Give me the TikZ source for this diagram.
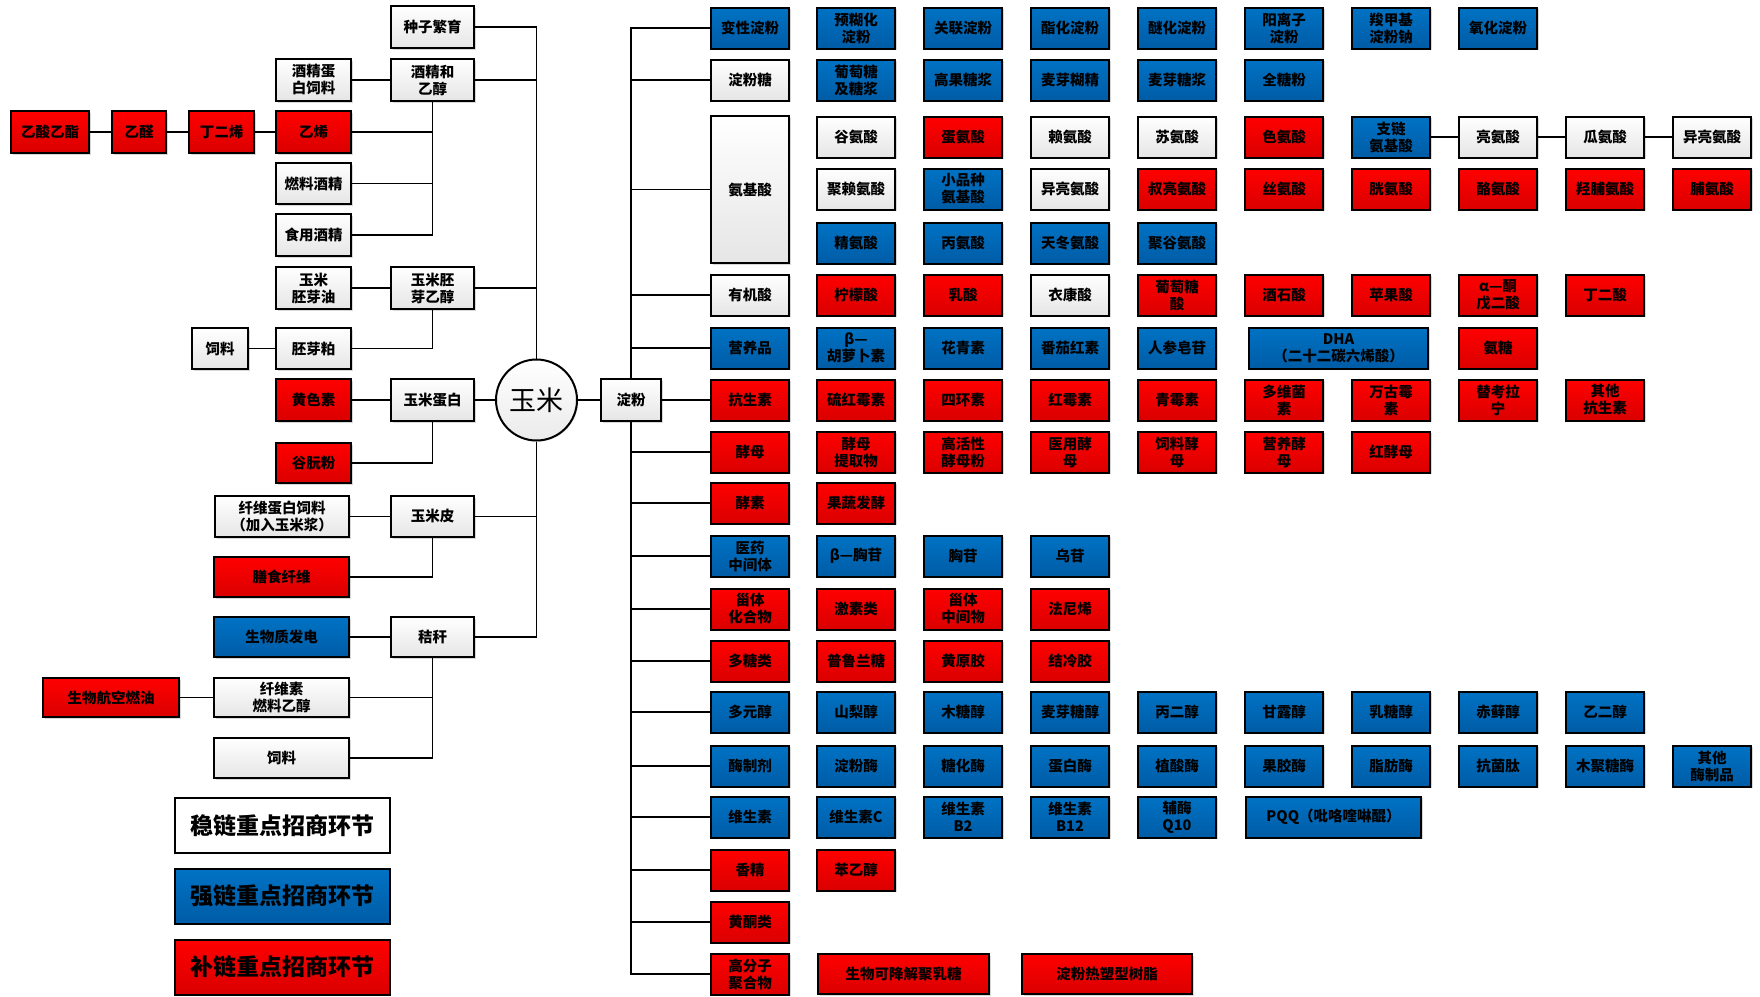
\documentclass[tikz,border=0pt]{standalone}
\usepackage{fontspec}
\setmainfont{Noto Sans CJK SC}
\usetikzlibrary{shadows}
\definecolor{rtop}{RGB}{255,0,0}
\definecolor{rbot}{RGB}{218,0,0}
\definecolor{btop}{RGB}{0,114,196}
\definecolor{bbot}{RGB}{0,92,166}
\begin{document}
\begin{tikzpicture}[x=1pt,y=-1pt,
  bx/.style={draw=black, line width=2pt, align=center, inner sep=0pt,
    font=\bfseries\fontsize{14.5}{17}\selectfont, text=black,
    minimum width=78pt, minimum height=41pt,
    drop shadow={shadow xshift=1.5pt, shadow yshift=-1.5pt, fill=black!30}},
  wb/.style={bx, top color=white, bottom color=black!10},
  rb/.style={bx, top color=rtop, bottom color=rbot},
  bb/.style={bx, top color=btop, bottom color=bbot},
  sz/.style 2 args={minimum width=#1pt, minimum height=#2pt},
  legbox/.style={draw=black, line width=2pt, minimum width=215pt, minimum height=55pt,
    font=\bfseries\fontsize{23}{26}\selectfont, inner sep=0pt},
  conn/.style={draw=black, line width=1.8pt}
]
\useasboundingbox (0,0) rectangle (1760,996);

% ---------------- left side ----------------
\node[wb, sz={83}{42}] (zzfy) at (432.5,27) {种子繁育};
\node[wb, sz={83}{42}] (jjcj) at (432.5,80) {酒精和\\乙醇};
\node[wb, sz={75}{42}] (jjdb) at (313.5,80) {酒精蛋\\白饲料};
\node[rb, sz={78}{42}] (ysyz) at (50,132) {乙酸乙酯};
\node[rb, sz={54}{42}] (yq) at (139,132) {乙醛};
\node[rb, sz={65}{42}] (dex) at (221.5,132) {丁二烯};
\node[rb, sz={75}{42}] (yx) at (313.5,132) {乙烯};
\node[wb, sz={75}{41}] (rljj) at (313.5,183.5) {燃料酒精};
\node[wb, sz={75}{42}] (syjj) at (313.5,235) {食用酒精};
\node[wb, sz={75}{42}] (ympyy) at (313.5,288) {玉米\\胚芽油};
\node[wb, sz={83}{42}] (ympy) at (432.5,288) {玉米胚\\芽乙醇};
\node[wb, sz={56}{41}] (sl) at (220,348.5) {饲料};
\node[wb, sz={75}{41}] (pyp) at (313.5,348.5) {胚芽粕};
\node[rb, sz={75}{42}] (hss) at (313.5,400) {黄色素};
\node[wb, sz={83}{42}] (ymdb) at (432.5,400) {玉米蛋白};
\node[rb, sz={75}{40}] (gmf) at (313.5,463) {谷朊粉};
\node[wb, sz={134}{41}] (xwdb) at (282,516.5) {纤维蛋白饲料\\（加入玉米浆）};
\node[wb, sz={83}{41}] (ymp) at (432.5,516.5) {玉米皮};
\node[rb, sz={135}{40}] (ssxw) at (281.5,577) {膳食纤维};
\node[bb, sz={135}{40}] (swzfd) at (281.5,637) {生物质发电};
\node[wb, sz={83}{40}] (jg) at (432.5,637) {秸秆};
\node[rb, sz={136}{39}] (swhk) at (111,697.5) {生物航空燃油};
\node[wb, sz={135}{39}] (xwsrl) at (281.5,697.5) {纤维素\\燃料乙醇};
\node[wb, sz={135}{40}] (sl2) at (281.5,758) {饲料};

\node[circle, draw=black, line width=2pt, minimum size=81pt, inner sep=0pt,
  top color=white, bottom color=black!8, font=\fontsize{27}{30}\selectfont,
  drop shadow={shadow xshift=1.2pt, shadow yshift=-1.2pt, fill=black!25}] (ym) at (536.5,400) {玉米};
\node[wb, sz={60}{42}] (df) at (631,400) {淀粉};

% legend
\node[legbox, fill=white] (lg1) at (282.5,825.5) {稳链重点招商环节};
\node[legbox, top color=btop, bottom color=bbot] (lg2) at (282.5,896) {强链重点招商环节};
\node[legbox, top color=rtop, bottom color=rbot] (lg3) at (282.5,967) {补链重点招商环节};

% left connectors
\draw[conn] (zzfy.east) -| (ym.north);
\draw[conn] (jjcj.east) -| (ym.north);
\draw[conn] (ympy.east) -| (ym.north);
\draw[conn] (ymdb.east) -- (ym.west);
\draw[conn] (ymp.east) -| (ym.south);
\draw[conn] (jg.east) -| (ym.south);
\draw[conn] (ym.east) -- (df.west);

\draw[conn] (jjdb.east) -- (jjcj.west);
\draw[conn] (yx.east) -| (jjcj.south);
\draw[conn] (rljj.east) -| (jjcj.south);
\draw[conn] (syjj.east) -| (jjcj.south);
\draw[conn] (ysyz.east) -- (yq.west);
\draw[conn] (yq.east) -- (dex.west);
\draw[conn] (dex.east) -- (yx.west);

\draw[conn] (ympyy.east) -- (ympy.west);
\draw[conn] (pyp.east) -| (ympy.south);
\draw[conn] (sl.east) -- (pyp.west);

\draw[conn] (hss.east) -- (ymdb.west);
\draw[conn] (gmf.east) -| (ymdb.south);

\draw[conn] (xwdb.east) -- (ymp.west);
\draw[conn] (ssxw.east) -| (ymp.south);

\draw[conn] (swzfd.east) -- (jg.west);
\draw[conn] (xwsrl.east) -| (jg.south);
\draw[conn] (sl2.east) -| (jg.south);
\draw[conn] (swhk.east) -- (xwsrl.west);

% ---------------- right side ----------------
% columns: 856 963 1070 1177 1284 1391 1498 1605 1712 ; category 750
% row 变性淀粉
\node[bb] (k1) at (750,28) {变性淀粉};
\node[bb] (k1a) at (856,28) {预糊化\\淀粉};
\node[bb] (k1b) at (963,28) {关联淀粉};
\node[bb] (k1c) at (1070,28) {酯化淀粉};
\node[bb] (k1d) at (1177,28) {醚化淀粉};
\node[bb] (k1e) at (1284,28) {阳离子\\淀粉};
\node[bb] (k1f) at (1391,28) {羧甲基\\淀粉钠};
\node[bb] (k1g) at (1498,28) {氧化淀粉};
% row 淀粉糖
\node[wb] (k2) at (750,80) {淀粉糖};
\node[bb] (k2a) at (856,80) {葡萄糖\\及糖浆};
\node[bb] (k2b) at (963,80) {高果糖浆};
\node[bb] (k2c) at (1070,80) {麦芽糊精};
\node[bb] (k2d) at (1177,80) {麦芽糖浆};
\node[bb] (k2e) at (1284,80) {全糖粉};
% 氨基酸
\node[wb, sz={78}{147}] (k3) at (750,189.5) {氨基酸};
\node[wb] (k3a1) at (856,137) {谷氨酸};
\node[rb] (k3b1) at (963,137) {蛋氨酸};
\node[wb] (k3c1) at (1070,137) {赖氨酸};
\node[wb] (k3d1) at (1177,137) {苏氨酸};
\node[rb] (k3e1) at (1284,137) {色氨酸};
\node[bb] (k3f1) at (1391,137) {支链\\氨基酸};
\node[wb] (k3g1) at (1498,137) {亮氨酸};
\node[wb] (k3h1) at (1605,137) {瓜氨酸};
\node[wb] (k3i1) at (1712,137) {异亮氨酸};
\node[wb] (k3a2) at (856,189) {聚赖氨酸};
\node[bb] (k3b2) at (963,189) {小品种\\氨基酸};
\node[wb] (k3c2) at (1070,189) {异亮氨酸};
\node[rb] (k3d2) at (1177,189) {叔亮氨酸};
\node[rb] (k3e2) at (1284,189) {丝氨酸};
\node[rb] (k3f2) at (1391,189) {胱氨酸};
\node[rb] (k3g2) at (1498,189) {酪氨酸};
\node[rb] (k3h2) at (1605,189) {羟脯氨酸};
\node[rb] (k3i2) at (1712,189) {脯氨酸};
\node[bb] (k3a3) at (856,243) {精氨酸};
\node[bb] (k3b3) at (963,243) {丙氨酸};
\node[bb] (k3c3) at (1070,243) {天冬氨酸};
\node[bb] (k3d3) at (1177,243) {聚谷氨酸};
% 有机酸
\node[wb] (k4) at (750,295) {有机酸};
\node[rb] (k4a) at (856,295) {柠檬酸};
\node[rb] (k4b) at (963,295) {乳酸};
\node[wb] (k4c) at (1070,295) {衣康酸};
\node[rb] (k4d) at (1177,295) {葡萄糖\\酸};
\node[rb] (k4e) at (1284,295) {酒石酸};
\node[rb] (k4f) at (1391,295) {苹果酸};
\node[rb] (k4g) at (1498,295) {α—酮\\戊二酸};
\node[rb] (k4h) at (1605,295) {丁二酸};
% 营养品
\node[bb] (k5) at (750,348) {营养品};
\node[bb] (k5a) at (856,348) {β—\\胡萝卜素};
\node[bb] (k5b) at (963,348) {花青素};
\node[bb] (k5c) at (1070,348) {番茄红素};
\node[bb] (k5d) at (1177,348) {人参皂苷};
\node[bb, sz={179}{41}] (k5e) at (1338.5,348) {DHA\\（二十二碳六烯酸）};
\node[rb] (k5f) at (1498,348) {氨糖};
% 抗生素
\node[rb] (k6) at (750,400) {抗生素};
\node[rb] (k6a) at (856,400) {硫红霉素};
\node[rb] (k6b) at (963,400) {四环素};
\node[rb] (k6c) at (1070,400) {红霉素};
\node[rb] (k6d) at (1177,400) {青霉素};
\node[rb] (k6e) at (1284,400) {多维菌\\素};
\node[rb] (k6f) at (1391,400) {万古霉\\素};
\node[rb] (k6g) at (1498,400) {替考拉\\宁};
\node[rb] (k6h) at (1605,400) {其他\\抗生素};
% 酵母
\node[rb] (k7) at (750,452) {酵母};
\node[rb] (k7a) at (856,452) {酵母\\提取物};
\node[rb] (k7b) at (963,452) {高活性\\酵母粉};
\node[rb] (k7c) at (1070,452) {医用酵\\母};
\node[rb] (k7d) at (1177,452) {饲料酵\\母};
\node[rb] (k7e) at (1284,452) {营养酵\\母};
\node[rb] (k7f) at (1391,452) {红酵母};
% 酵素
\node[rb] (k8) at (750,503) {酵素};
\node[rb] (k8a) at (856,503) {果蔬发酵};
% 医药中间体
\node[bb] (k9) at (750,556) {医药\\中间体};
\node[bb] (k9a) at (856,556) {β—胸苷};
\node[bb] (k9b) at (963,556) {胸苷};
\node[bb] (k9c) at (1070,556) {乌苷};
% 甾体化合物
\node[rb] (k10) at (750,609) {甾体\\化合物};
\node[rb] (k10a) at (856,609) {激素类};
\node[rb] (k10b) at (963,609) {甾体\\中间物};
\node[rb] (k10c) at (1070,609) {法尼烯};
% 多糖类
\node[rb] (k11) at (750,661) {多糖类};
\node[rb] (k11a) at (856,661) {普鲁兰糖};
\node[rb] (k11b) at (963,661) {黄原胶};
\node[rb] (k11c) at (1070,661) {结冷胶};
% 多元醇
\node[bb] (k12) at (750,712) {多元醇};
\node[bb] (k12a) at (856,712) {山梨醇};
\node[bb] (k12b) at (963,712) {木糖醇};
\node[bb] (k12c) at (1070,712) {麦芽糖醇};
\node[bb] (k12d) at (1177,712) {丙二醇};
\node[bb] (k12e) at (1284,712) {甘露醇};
\node[bb] (k12f) at (1391,712) {乳糖醇};
\node[bb] (k12g) at (1498,712) {赤藓醇};
\node[bb] (k12h) at (1605,712) {乙二醇};
% 酶制剂
\node[bb] (k13) at (750,766) {酶制剂};
\node[bb] (k13a) at (856,766) {淀粉酶};
\node[bb] (k13b) at (963,766) {糖化酶};
\node[bb] (k13c) at (1070,766) {蛋白酶};
\node[bb] (k13d) at (1177,766) {植酸酶};
\node[bb] (k13e) at (1284,766) {果胶酶};
\node[bb] (k13f) at (1391,766) {脂肪酶};
\node[bb] (k13g) at (1498,766) {抗菌肽};
\node[bb] (k13h) at (1605,766) {木聚糖酶};
\node[bb] (k13i) at (1712,766) {其他\\酶制品};
% 维生素
\node[bb] (k14) at (750,817) {维生素};
\node[bb] (k14a) at (856,817) {维生素C};
\node[bb] (k14b) at (963,817) {维生素\\B2};
\node[bb] (k14c) at (1070,817) {维生素\\B12};
\node[bb] (k14d) at (1177,817) {辅酶\\Q10};
\node[bb, sz={175}{41}] (k14e) at (1333.5,817) {PQQ（吡咯喹啉醌）};
% 香精
\node[rb] (k15) at (750,870) {香精};
\node[rb] (k15a) at (856,870) {苯乙醇};
% 黄酮类
\node[rb] (k16) at (750,922) {黄酮类};
% 高分子聚合物
\node[rb] (k17) at (750,974) {高分子\\聚合物};
\node[rb, sz={171}{40}] (k17a) at (903.5,974) {生物可降解聚乳糖};
\node[rb, sz={170}{40}] (k17b) at (1107,974) {淀粉热塑型树脂};

% right connectors
\foreach \k in {k1,k2,k3,k4,k5}
  \draw[conn] (\k.west) -| (df.north);
\draw[conn] (k6.west) -- (df.east);
\foreach \k in {k7,k8,k9,k10,k11,k12,k13,k14,k15,k16,k17}
  \draw[conn] (\k.west) -| (df.south);
\draw[conn] (k3f1.east) -- (k3g1.west);
\draw[conn] (k3g1.east) -- (k3h1.west);
\draw[conn] (k3h1.east) -- (k3i1.west);
\end{tikzpicture}
\end{document}
